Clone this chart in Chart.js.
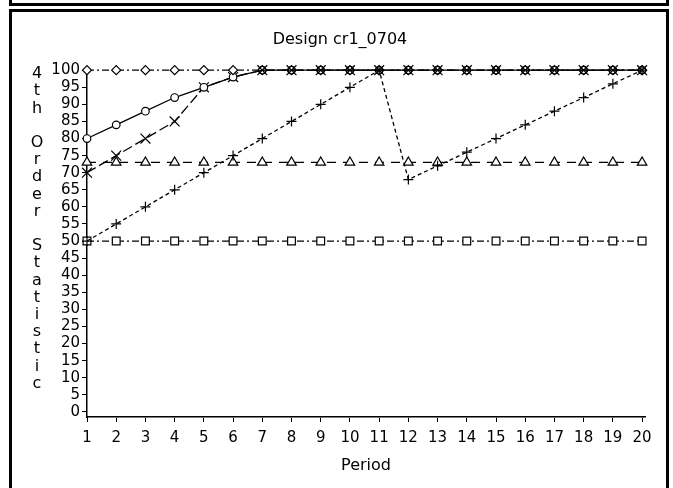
<!DOCTYPE html>
<html>
<head>
<meta charset="utf-8">
<script src="https://cdn.jsdelivr.net/npm/chart.js@4/dist/chart.umd.min.js"></script>
<style>
  html, body { margin: 0; padding: 0; background: #fff; }
  #wrap { position: relative; width: 673px; height: 488px; overflow: hidden; }
  #chart { position: absolute; left: 0; top: 0; }
  .frame { position: absolute; box-sizing: border-box; border: 3px solid #000; pointer-events: none; }
  #strip { left: 9px; top: -4px; width: 660px; height: 10px; }
  #box { left: 9px; top: 9px; width: 660px; height: 495px; }
</style>
</head>
<body>
<div id="wrap">
  <canvas id="chart" width="673" height="488"></canvas>
  <div class="frame" id="strip"></div>
  <div class="frame" id="box"></div>
</div>
<script>
// --- dados ---
const periods = [1, 2, 3, 4, 5, 6, 7, 8, 9, 10, 11, 12, 13, 14, 15, 16, 17, 18, 19, 20];
const xTicks = [1, 2, 3, 4, 5, 6, 7, 8, 9, 10, 11, 12, 13, 14, 15, 16, 17, 18, 19, 20];
const yTicks = [0, 5, 10, 15, 20, 25, 30, 35, 40, 45, 50, 55, 60, 65, 70, 75, 80, 85, 90, 95, 100];

const diamondVals = [100, 100, 100, 100, 100, 100, 100, 100, 100, 100, 100, 100, 100, 100, 100, 100, 100, 100, 100, 100];
const circleVals  = [80, 84, 88, 92, 95, 98, 100, 100, 100, 100, 100, 100, 100, 100, 100, 100, 100, 100, 100, 100];
const crossVals   = [70, 75, 80, 85, 95, 98, 100, 100, 100, 100, 100, 100, 100, 100, 100, 100, 100, 100, 100, 100];
const plusVals    = [50, 55, 60, 65, 70, 75, 80, 85, 90, 95, 100, 68, 72, 76, 80, 84, 88, 92, 96, 100];
const triangleVals = [73, 73, 73, 73, 73, 73, 73, 73, 73, 73, 73, 73, 73, 73, 73, 73, 73, 73, 73, 73];
const squareVals  = [50, 50, 50, 50, 50, 50, 50, 50, 50, 50, 50, 50, 50, 50, 50, 50, 50, 50, 50, 50];

const chartTitle = 'Design cr1_0704';
const xTitle = 'Period';
const yTitleLetters = ['4', 't', 'h', '', 'O', 'r', 'd', 'e', 'r', '', 'S', 't', 'a', 't', 'i', 's', 't', 'i', 'c'];

const FONT = '"DejaVu Sans", sans-serif';

function toPoints(vals) {
    return periods.map((p, i) => ({ x: p, y: vals[i] }));
}

// marcadores vazios, mas transparentes onde as séries se sobrepõem em 100
function hollowFill(c) {
    const r = c.raw;
    if (r && r.y === 100 && r.x >= 7) return 'rgba(0,0,0,0)';
    return '#fff';
}

function series(vals, style, radius, dash) {
    return {
        data: toPoints(vals),
        borderColor: '#000',
        borderWidth: 1.3,
        borderDash: dash,
        pointStyle: style,
        pointRadius: radius,
        pointBorderColor: '#000',
        pointBorderWidth: 1.2,
        pointBackgroundColor: hollowFill,
        tension: 0,
        clip: false
    };
}

// título vertical do eixo Y, letra por letra
const yTitlePlugin = {
    id: 'yTitleLetters',
    afterDraw(chart) {
        const ctx = chart.ctx;
        ctx.save();
        ctx.font = '16px ' + FONT;
        ctx.fillStyle = '#000';
        ctx.textAlign = 'center';
        ctx.textBaseline = 'middle';
        yTitleLetters.forEach((ch, i) => {
            if (ch) ctx.fillText(ch, 37, 74 + i * 17.2);
        });
        ctx.restore();
    }
};

const ctx = document.getElementById('chart').getContext('2d');
new Chart(ctx, {
    type: 'line',
    data: {
        datasets: [
            series(diamondVals, 'rectRot', 4.5, [7, 3, 2, 3]),
            series(circleVals, 'circle', 3.8, []),
            series(crossVals, 'crossRot', 7, [10, 4]),
            series(plusVals, 'cross', 5, [4, 3]),
            series(triangleVals, 'triangle', 5.5, [9, 7]),
            series(squareVals, 'rect', 5.5, [7, 3, 2, 3])
        ]
    },
    options: {
        responsive: false,
        animation: false,
        devicePixelRatio: 1,
        layout: { padding: { left: 35, right: 28, top: 0, bottom: 0 } },
        plugins: {
            legend: { display: false },
            tooltip: { enabled: false },
            title: {
                display: true,
                text: chartTitle,
                color: '#000',
                font: { family: FONT, size: 16, weight: 'normal' },
                padding: { top: 30, bottom: 21 }
            }
        },
        scales: {
            x: {
                type: 'linear',
                min: 1,
                max: 20.1,
                afterBuildTicks: s => { s.ticks = xTicks.map(v => ({ value: v })); },
                afterFit: s => { s.height = 71; },
                ticks: { color: '#000', padding: 7, autoSkip: false, maxRotation: 0, font: { family: FONT, size: 15 } },
                grid: { drawOnChartArea: false, drawTicks: true, tickLength: 5, color: '#000', lineWidth: 1 },
                border: { display: true, color: '#000', width: 1.5 },
                title: {
                    display: true,
                    text: xTitle,
                    color: '#000',
                    font: { family: FONT, size: 16 },
                    padding: { top: 0, bottom: 13 }
                }
            },
            y: {
                type: 'linear',
                min: -1.5,
                max: 100,
                afterBuildTicks: s => { s.ticks = yTicks.map(v => ({ value: v })); },
                afterFit: s => { s.width = 52; },
                ticks: { color: '#000', padding: 2, autoSkip: false, font: { family: FONT, size: 15 } },
                grid: { drawOnChartArea: false, drawTicks: true, tickLength: 5, color: '#000', lineWidth: 1 },
                border: { display: true, color: '#000', width: 1.5 }
            }
        }
    },
    plugins: [yTitlePlugin]
});
</script>
</body>
</html>
